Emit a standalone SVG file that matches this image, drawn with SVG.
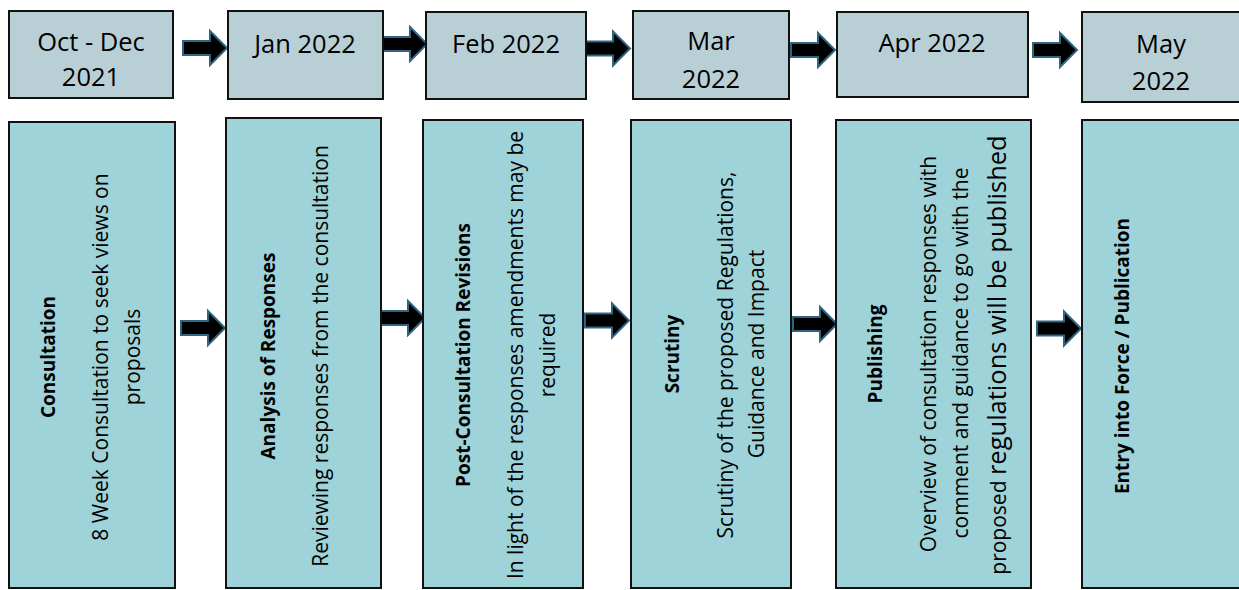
<svg xmlns="http://www.w3.org/2000/svg" xmlns:xlink="http://www.w3.org/1999/xlink" width="1239" height="590" viewBox="0 0 1239 590">
<style>
.top{fill:#B8CFD6;stroke:#111;stroke-width:2}
.bot{fill:#9ED3D9;stroke:#111;stroke-width:2}
.tt{font-family:"Open Sans","Liberation Sans",sans-serif;font-size:25.5px;fill:#000;text-anchor:middle}
.tb{font-family:"Open Sans","Liberation Sans",sans-serif;font-size:19px;font-weight:bold;fill:#000;text-anchor:middle}
.tr{font-family:"Open Sans","Liberation Sans",sans-serif;font-size:21px;fill:#000;text-anchor:middle}
.arr{fill:#000;stroke:#2E6682;stroke-width:2;stroke-linejoin:miter}
</style>
<defs>
<path id="ar" class="arr" d="M0,-7 H27 V-17 L44,0 L27,17 V7 H0 Z"/>
</defs>
<rect width="1239" height="590" fill="#fff"/>
<g id="connectors">
<use xlink:href="#ar" transform="translate(183,48)"/>
<use xlink:href="#ar" transform="translate(383,44)"/>
<use xlink:href="#ar" transform="translate(586,48.5)"/>
<use xlink:href="#ar" transform="translate(791,50)"/>
<use xlink:href="#ar" transform="translate(1033,50)"/>
<use xlink:href="#ar" transform="translate(181,328)"/>
<use xlink:href="#ar" transform="translate(381,318)"/>
<use xlink:href="#ar" transform="translate(585,320.5)"/>
<use xlink:href="#ar" transform="translate(793,324)"/>
<use xlink:href="#ar" transform="translate(1037,328.5)"/>
</g>
<g id="date-oct-dec"><rect class="top" x="9" y="11" width="164" height="87"/><text class="tt" x="91" y="51">Oct - Dec</text><text class="tt" x="91" y="86">2021</text></g>
<g id="date-jan"><rect class="top" x="228" y="11" width="155" height="88"/><text class="tt" x="305" y="53">Jan 2022</text></g>
<g id="date-feb"><rect class="top" x="426" y="12" width="160" height="87"/><text class="tt" x="506" y="53">Feb 2022</text></g>
<g id="date-mar"><rect class="top" x="633" y="11" width="156" height="88"/><text class="tt" x="711" y="50">Mar</text><text class="tt" x="711" y="88">2022</text></g>
<g id="date-apr"><rect class="top" x="837" y="12" width="191" height="85"/><text class="tt" x="932" y="52">Apr 2022</text></g>
<g id="date-may"><rect class="top" x="1082" y="12" width="160" height="90"/><text class="tt" x="1161" y="53">May</text><text class="tt" x="1161" y="90">2022</text></g>

<g id="step-consultation"><rect class="bot" x="9" y="122" width="166" height="466"/>
<text class="tb" transform="translate(55,357) rotate(-90)">Consultation</text>
<text class="tr" transform="translate(108,357) rotate(-90)">8 Week Consultation to seek views on</text>
<text class="tr" transform="translate(140,357) rotate(-90)">proposals</text></g>
<g id="step-analysis"><rect class="bot" x="226" y="118" width="155" height="470"/>
<text class="tb" transform="translate(275,356) rotate(-90)">Analysis of Responses</text>
<text class="tr" transform="translate(328,356) rotate(-90)">Reviewing responses from the consultation</text></g>
<g id="step-revisions"><rect class="bot" x="423" y="120" width="160" height="468"/>
<text class="tb" transform="translate(470,355) rotate(-90)">Post-Consultation Revisions</text>
<text class="tr" transform="translate(523,355) rotate(-90)">In light of the responses amendments may be</text>
<text class="tr" transform="translate(555,355) rotate(-90)">required</text></g>
<g id="step-scrutiny"><rect class="bot" x="631" y="120" width="160" height="468"/>
<text class="tb" transform="translate(679,354) rotate(-90)">Scrutiny</text>
<text class="tr" transform="translate(733,355) rotate(-90)">Scrutiny of the proposed Regulations,</text>
<text class="tr" transform="translate(764,354) rotate(-90)">Guidance and Impact</text></g>
<g id="step-publishing"><rect class="bot" x="836" y="120" width="195" height="468"/>
<text class="tb" transform="translate(882,354) rotate(-90)">Publishing</text>
<text class="tr" transform="translate(936,354) rotate(-90)">Overview of consultation responses with</text>
<text class="tr" transform="translate(968,353) rotate(-90)">comment and guidance to go with the</text>
<text class="tr" transform="translate(1006,355) rotate(-90)">proposed <tspan style="font-size:25.5px">regulations will be published</tspan></text></g>
<g id="step-entry"><rect class="bot" x="1082" y="120" width="170" height="468"/>
<text class="tb" transform="translate(1129,356) rotate(-90)">Entry into Force / Publication</text></g>
</svg>
